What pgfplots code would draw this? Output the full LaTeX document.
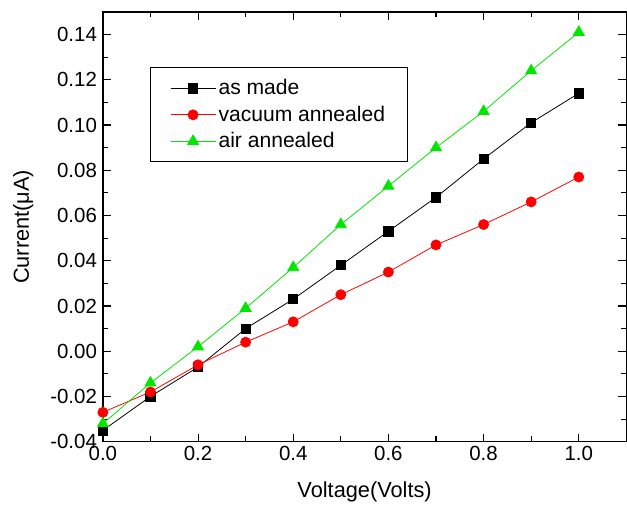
\documentclass[border=0pt]{standalone}
\usepackage{pgfplots}
\pgfplotsset{compat=1.18}
\usepackage{fontspec}
\setmainfont{Liberation Sans}
\definecolor{vgreen}{RGB}{0,230,0}
\begin{document}
\begin{tikzpicture}
\begin{axis}[
    name=ax,
    scale only axis,
    width=397pt, height=326pt,
    xmin=0, xmax=1.1, ymin=-0.04, ymax=0.15,
    xtick={0,0.2,...,1.0}, minor x tick num=1,
    ytick={-0.04,-0.02,...,0.141}, minor y tick num=1,
    tick align=inside,
    major tick length=6pt, minor tick length=4pt,
    every tick/.style={black, line width=0.8pt},
    axis line style={line width=1pt},
    xticklabel style={/pgf/number format/.cd, fixed, fixed zerofill, precision=1},
    yticklabel style={xshift=-1pt, /pgf/number format/.cd, fixed, fixed zerofill, precision=2},
    /pgf/number format/assume math mode=true,
    tick label style={font=\fontsize{15.5}{17}\selectfont},
    label style={font=\fontsize{16.5}{19}\selectfont},
    xlabel={Voltage(Volts)}, ylabel={Current(μA)},
    xlabel style={yshift=-9pt},
    ylabel style={yshift=6pt},
    legend style={at={(0.09,0.871)}, anchor=north west, draw=black,
        font=\fontsize{16}{18}\selectfont, inner xsep=15pt, inner ysep=7pt,
        row sep=3pt, line width=0.8pt},
    legend cell align=left,
    legend image code/.code={
        \draw[mark repeat=2, mark phase=2, line width=0.6pt]
            plot coordinates {(0pt,0pt) (17pt,0pt) (34pt,0pt)};
    },
]
\addplot[black, mark=square*, mark size=3.5pt, line width=0.6pt] coordinates {
(0,-0.035) (0.1,-0.020) (0.2,-0.007) (0.3,0.010) (0.4,0.023) (0.5,0.038)
(0.6,0.053) (0.7,0.068) (0.8,0.085) (0.9,0.101) (1.0,0.114)};
\addplot[red, mark=*, mark size=3.8pt, line width=0.6pt] coordinates {
(0,-0.027) (0.1,-0.018) (0.2,-0.006) (0.3,0.004) (0.4,0.013) (0.5,0.025)
(0.6,0.035) (0.7,0.047) (0.8,0.056) (0.9,0.066) (1.0,0.077)};
\addplot[vgreen, mark=triangle*, mark size=4.8pt, line width=0.6pt] coordinates {
(0,-0.032) (0.1,-0.014) (0.2,0.002) (0.3,0.019) (0.4,0.037) (0.5,0.056)
(0.6,0.073) (0.7,0.090) (0.8,0.106) (0.9,0.124) (1.0,0.141)};
\legend{as made, vacuum annealed, air annealed}
\end{axis}
\path ([yshift=9pt]ax.north west) ([xshift=-78pt, yshift=-46pt]ax.south west);
\end{tikzpicture}
\end{document}
